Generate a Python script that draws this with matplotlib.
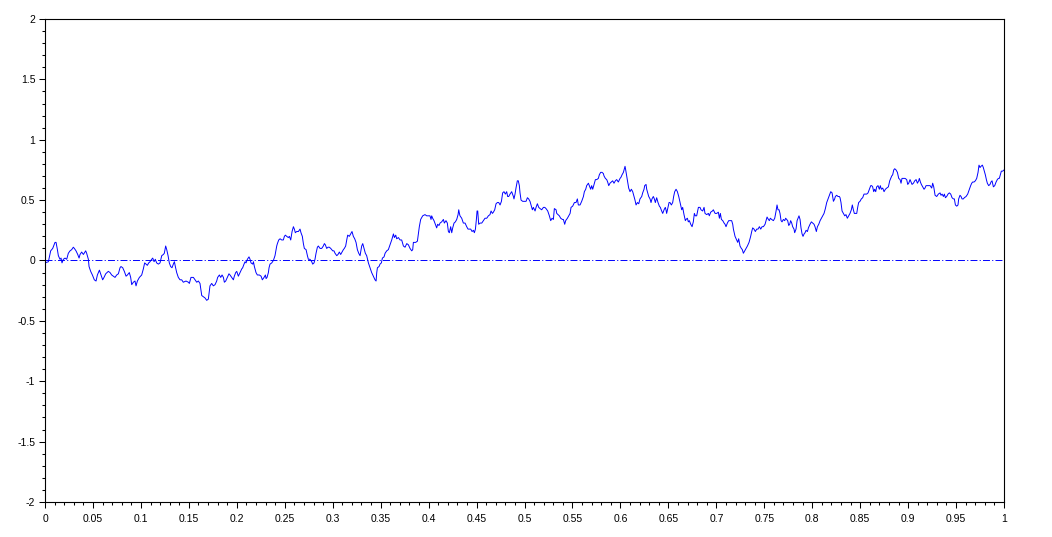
import numpy as np
import matplotlib
matplotlib.use("Agg")
import matplotlib.pyplot as plt
from matplotlib.ticker import MultipleLocator

# trajectoire, par tranches de temps
t_a = [0.0, 0.0035, 0.0059, 0.0080, 0.0104, 0.0115, 0.0129, 0.0139, 0.0156, 0.0167,
       0.0177, 0.0191, 0.0209, 0.0226, 0.0243, 0.0261, 0.0278, 0.0295, 0.0306, 0.0323,
       0.0341, 0.0355, 0.0365, 0.0382, 0.0400, 0.0424, 0.0434, 0.0452, 0.0459, 0.0476,
       0.0494, 0.0514, 0.0532, 0.0546, 0.0567, 0.0584, 0.0601, 0.0615, 0.0633, 0.0660,
       0.0678, 0.0695, 0.0713, 0.0730, 0.0747, 0.0765, 0.0782, 0.0792, 0.0810, 0.0827,
       0.0845, 0.0859, 0.0879, 0.0893, 0.0904, 0.0921, 0.0938, 0.0949, 0.0963, 0.0984,
       0.1008, 0.1025, 0.1039, 0.1053, 0.1067, 0.1081, 0.1095, 0.1112, 0.1123, 0.1137,
       0.1150, 0.1164, 0.1182, 0.1199, 0.1217, 0.1234, 0.1244, 0.1258, 0.1269, 0.1283,
       0.1296, 0.1310, 0.1324, 0.1338, 0.1349, 0.1359, 0.1373, 0.1390, 0.1408, 0.1425,
       0.1442, 0.1470, 0.1495, 0.1505, 0.1522, 0.1547, 0.1564, 0.1582, 0.1599, 0.1616]
w_a = [-0.02, -0.01, 0.08, 0.10, 0.15, 0.15, 0.09, 0.04, 0.01, 0.02,
       -0.02, 0.01, 0.02, 0.01, 0.06, 0.08, 0.09, 0.11, 0.10, 0.08,
       0.05, 0.02, 0.05, 0.07, 0.05, 0.08, 0.06, 0.01, -0.05, -0.09,
       -0.12, -0.16, -0.17, -0.12, -0.08, -0.12, -0.16, -0.14, -0.11, -0.09,
       -0.10, -0.12, -0.13, -0.14, -0.12, -0.11, -0.06, -0.05, -0.06, -0.09,
       -0.13, -0.12, -0.10, -0.14, -0.20, -0.18, -0.17, -0.21, -0.17, -0.14,
       -0.12, -0.07, -0.02, -0.03, -0.04, -0.02, -0.01, 0.01, 0.02, -0.01,
       0.01, -0.02, -0.03, -0.02, 0.04, 0.05, 0.06, 0.12, 0.09, 0.04,
       -0.02, -0.05, -0.06, -0.03, -0.01, -0.05, -0.10, -0.14, -0.16, -0.16,
       -0.18, -0.17, -0.18, -0.19, -0.14, -0.14, -0.16, -0.18, -0.17, -0.19]

t_b = [0.1634, 0.1651, 0.1668, 0.1686, 0.1703, 0.1720, 0.1738, 0.1755, 0.1773, 0.1790,
       0.1800, 0.1818, 0.1832, 0.1846, 0.1860, 0.1870, 0.1884, 0.1901, 0.1918, 0.1929,
       0.1947, 0.1964, 0.1974, 0.1988, 0.1999, 0.2016, 0.2033, 0.2051, 0.2061, 0.2075,
       0.2086, 0.2096, 0.2110, 0.2127, 0.2138, 0.2148, 0.2166, 0.2173, 0.2183, 0.2200,
       0.2214, 0.2235, 0.2253, 0.2266, 0.2284, 0.2298, 0.2305, 0.2315, 0.2329, 0.2336,
       0.2346, 0.2364, 0.2381, 0.2398, 0.2416, 0.2423, 0.2437, 0.2451, 0.2468, 0.2485,
       0.2496, 0.2506, 0.2520, 0.2537, 0.2548, 0.2562, 0.2576, 0.2590, 0.2600, 0.2610,
       0.2624, 0.2642, 0.2659, 0.2669, 0.2683, 0.2694, 0.2704, 0.2722, 0.2736, 0.2746,
       0.2763, 0.2781, 0.2791, 0.2805, 0.2815, 0.2826, 0.2840, 0.2850, 0.2868, 0.2885,
       0.2902, 0.2913, 0.2923, 0.2937, 0.2951, 0.2965, 0.2979, 0.2989, 0.3000, 0.3013,
       0.3024, 0.3042, 0.3055, 0.3069, 0.3083, 0.3097, 0.3111, 0.3121, 0.3135, 0.3146,
       0.3156, 0.3173, 0.3187, 0.3201, 0.3215, 0.3229, 0.3243, 0.3257, 0.3271, 0.3285]
w_b = [-0.29, -0.30, -0.31, -0.33, -0.32, -0.21, -0.19, -0.21, -0.20, -0.17,
       -0.14, -0.12, -0.14, -0.12, -0.14, -0.18, -0.17, -0.14, -0.11, -0.12,
       -0.14, -0.16, -0.13, -0.10, -0.09, -0.13, -0.10, -0.07, -0.06, -0.03,
       -0.01, -0.02, 0.01, 0.03, 0.01, -0.02, -0.03, -0.01, -0.05, -0.10,
       -0.12, -0.12, -0.13, -0.16, -0.14, -0.12, -0.15, -0.14, -0.10, -0.06,
       -0.03, -0.02, 0.00, 0.04, 0.12, 0.14, 0.17, 0.18, 0.17, 0.17,
       0.20, 0.21, 0.20, 0.19, 0.20, 0.17, 0.24, 0.28, 0.26, 0.23,
       0.24, 0.24, 0.26, 0.23, 0.20, 0.14, 0.10, 0.09, 0.04, 0.01,
       0.01, -0.01, -0.03, -0.02, 0.01, 0.06, 0.11, 0.12, 0.10, 0.10,
       0.12, 0.14, 0.13, 0.10, 0.11, 0.11, 0.10, 0.09, 0.08, 0.08,
       0.06, 0.04, 0.05, 0.07, 0.05, 0.07, 0.09, 0.10, 0.12, 0.17,
       0.21, 0.20, 0.22, 0.24, 0.20, 0.18, 0.15, 0.09, 0.06, 0.04]

t_c = [0.3302, 0.3313, 0.3327, 0.3340, 0.3354, 0.3372, 0.3389, 0.3406, 0.3424, 0.3441,
       0.3452, 0.3459, 0.3466, 0.3483, 0.3493, 0.3507, 0.3518, 0.3535, 0.3546, 0.3563,
       0.3580, 0.3598, 0.3615, 0.3633, 0.3643, 0.3657, 0.3667, 0.3685, 0.3702, 0.3719,
       0.3737, 0.3754, 0.3772, 0.3789, 0.3806, 0.3824, 0.3834, 0.3841, 0.3851, 0.3865,
       0.3883, 0.3893, 0.3903, 0.3917, 0.3938, 0.3962, 0.3980, 0.3997, 0.4014, 0.4025,
       0.4032, 0.4042, 0.4056, 0.4070, 0.4084, 0.4094, 0.4108, 0.4119, 0.4136, 0.4154,
       0.4164, 0.4181, 0.4195, 0.4206, 0.4216, 0.4230, 0.4241, 0.4251, 0.4265, 0.4279,
       0.4293, 0.4307, 0.4314, 0.4321, 0.4327, 0.4345, 0.4362, 0.4380, 0.4397, 0.4411,
       0.4425, 0.4439, 0.4453, 0.4467, 0.4477, 0.4488, 0.4498, 0.4505, 0.4512, 0.4522,
       0.4536, 0.4554, 0.4571, 0.4588, 0.4606, 0.4623, 0.4640, 0.4651, 0.4665, 0.4675,
       0.4689, 0.4703, 0.4717, 0.4731, 0.4745, 0.4759, 0.4772, 0.4786, 0.4800, 0.4814,
       0.4824, 0.4835, 0.4849, 0.4866, 0.4884, 0.4890, 0.4901, 0.4911, 0.4925, 0.4935,
       0.4946, 0.4953]
w_c = [0.12, 0.14, 0.10, 0.06, 0.04, -0.02, -0.06, -0.10, -0.13, -0.16,
       -0.17, -0.10, -0.06, -0.05, -0.03, -0.02, 0.02, 0.03, 0.06, 0.08,
       0.09, 0.13, 0.17, 0.22, 0.19, 0.21, 0.18, 0.19, 0.17, 0.17,
       0.12, 0.11, 0.14, 0.13, 0.10, 0.08, 0.09, 0.15, 0.15, 0.15,
       0.16, 0.22, 0.28, 0.34, 0.37, 0.38, 0.37, 0.37, 0.37, 0.34,
       0.37, 0.35, 0.33, 0.30, 0.27, 0.30, 0.29, 0.31, 0.32, 0.34,
       0.31, 0.33, 0.31, 0.24, 0.23, 0.28, 0.23, 0.27, 0.31, 0.32,
       0.34, 0.38, 0.42, 0.39, 0.37, 0.35, 0.31, 0.31, 0.28, 0.26,
       0.26, 0.26, 0.24, 0.25, 0.23, 0.26, 0.34, 0.41, 0.41, 0.30,
       0.31, 0.31, 0.33, 0.35, 0.35, 0.37, 0.38, 0.41, 0.39, 0.40,
       0.42, 0.47, 0.48, 0.48, 0.46, 0.49, 0.56, 0.57, 0.55, 0.57,
       0.53, 0.53, 0.55, 0.57, 0.53, 0.51, 0.55, 0.60, 0.66, 0.66,
       0.62, 0.56]

t_d = [0.4964, 0.4981, 0.5002, 0.5016, 0.5030, 0.5043, 0.5057, 0.5071, 0.5082, 0.5092,
       0.5110, 0.5120, 0.5134, 0.5148, 0.5162, 0.5179, 0.5197, 0.5211, 0.5224, 0.5242,
       0.5259, 0.5273, 0.5287, 0.5301, 0.5311, 0.5329, 0.5336, 0.5349, 0.5363, 0.5377,
       0.5395, 0.5405, 0.5419, 0.5429, 0.5447, 0.5461, 0.5475, 0.5485, 0.5502, 0.5520,
       0.5537, 0.5551, 0.5561, 0.5579, 0.5596, 0.5614, 0.5624, 0.5638, 0.5648, 0.5666,
       0.5676, 0.5690, 0.5700, 0.5711, 0.5725, 0.5739, 0.5753, 0.5770, 0.5780, 0.5794,
       0.5808, 0.5822, 0.5829, 0.5843, 0.5857, 0.5867, 0.5878, 0.5891, 0.5905, 0.5919,
       0.5933, 0.5947, 0.5961, 0.5978, 0.5996, 0.6006, 0.6017, 0.6031, 0.6041, 0.6048,
       0.6055, 0.6065, 0.6076, 0.6086, 0.6100, 0.6114, 0.6128, 0.6142, 0.6152, 0.6163,
       0.6177, 0.6191, 0.6204, 0.6222, 0.6232, 0.6246, 0.6253, 0.6267, 0.6274, 0.6284,
       0.6295, 0.6309, 0.6319, 0.6329, 0.6343, 0.6354, 0.6364, 0.6378, 0.6392, 0.6406,
       0.6416, 0.6430, 0.6441, 0.6455, 0.6468, 0.6475, 0.6482, 0.6496, 0.6507, 0.6517,
       0.6531, 0.6545, 0.6555, 0.6566, 0.6580, 0.6594, 0.6608, 0.6622]
w_d = [0.50, 0.49, 0.49, 0.49, 0.52, 0.51, 0.49, 0.45, 0.42, 0.44,
       0.41, 0.44, 0.47, 0.44, 0.43, 0.42, 0.44, 0.44, 0.43, 0.41,
       0.37, 0.33, 0.35, 0.34, 0.43, 0.42, 0.39, 0.38, 0.37, 0.35,
       0.34, 0.34, 0.30, 0.33, 0.35, 0.37, 0.39, 0.44, 0.45, 0.48,
       0.48, 0.51, 0.46, 0.46, 0.49, 0.53, 0.57, 0.59, 0.62, 0.64,
       0.62, 0.59, 0.62, 0.59, 0.63, 0.67, 0.67, 0.68, 0.71, 0.73,
       0.73, 0.72, 0.70, 0.68, 0.67, 0.65, 0.62, 0.64, 0.65, 0.66,
       0.64, 0.66, 0.67, 0.65, 0.68, 0.69, 0.71, 0.73, 0.76, 0.78,
       0.75, 0.70, 0.64, 0.60, 0.57, 0.59, 0.57, 0.53, 0.50, 0.46,
       0.48, 0.47, 0.51, 0.53, 0.56, 0.59, 0.62, 0.63, 0.59, 0.56,
       0.53, 0.51, 0.48, 0.51, 0.53, 0.51, 0.48, 0.52, 0.48, 0.45,
       0.44, 0.41, 0.39, 0.42, 0.44, 0.42, 0.39, 0.44, 0.48, 0.48,
       0.46, 0.48, 0.53, 0.57, 0.59, 0.57, 0.53, 0.48]

t_e = [0.6639, 0.6649, 0.6663, 0.6677, 0.6684, 0.6698, 0.6708, 0.6719, 0.6733, 0.6747,
       0.6760, 0.6771, 0.6781, 0.6795, 0.6813, 0.6830, 0.6840, 0.6858, 0.6872, 0.6882,
       0.6900, 0.6917, 0.6927, 0.6941, 0.6959, 0.6969, 0.6987, 0.7004, 0.7021, 0.7032,
       0.7042, 0.7053, 0.7067, 0.7081, 0.7091, 0.7101, 0.7115, 0.7129, 0.7143, 0.7160,
       0.7171, 0.7178, 0.7195, 0.7212, 0.7223, 0.7233, 0.7247, 0.7261, 0.7271, 0.7282,
       0.7296, 0.7310, 0.7324, 0.7341, 0.7358, 0.7369, 0.7379, 0.7393, 0.7407, 0.7421,
       0.7435, 0.7449, 0.7463, 0.7477, 0.7491, 0.7508, 0.7518, 0.7529, 0.7543, 0.7553,
       0.7563, 0.7577, 0.7595, 0.7609, 0.7623, 0.7633, 0.7643, 0.7654, 0.7664, 0.7675,
       0.7685, 0.7699, 0.7713, 0.7723, 0.7734, 0.7744, 0.7755, 0.7765, 0.7775, 0.7786,
       0.7796, 0.7810, 0.7817, 0.7831, 0.7842, 0.7852, 0.7862, 0.7873, 0.7883, 0.7894,
       0.7904, 0.7915, 0.7925, 0.7936, 0.7950, 0.7960, 0.7977, 0.7991, 0.8005, 0.8019,
       0.8029, 0.8043, 0.8054, 0.8068, 0.8082, 0.8096, 0.8109, 0.8123, 0.8137, 0.8151,
       0.8165, 0.8179, 0.8193, 0.8207, 0.8221, 0.8234, 0.8241, 0.8255, 0.8269, 0.8283]
w_e = [0.42, 0.44, 0.38, 0.33, 0.34, 0.35, 0.32, 0.33, 0.30, 0.28,
       0.32, 0.39, 0.37, 0.37, 0.44, 0.44, 0.42, 0.41, 0.44, 0.39,
       0.38, 0.39, 0.37, 0.40, 0.41, 0.42, 0.39, 0.39, 0.40, 0.35,
       0.39, 0.34, 0.33, 0.31, 0.30, 0.28, 0.31, 0.33, 0.33, 0.33,
       0.30, 0.26, 0.20, 0.17, 0.15, 0.18, 0.12, 0.10, 0.09, 0.06,
       0.08, 0.10, 0.12, 0.15, 0.20, 0.24, 0.27, 0.26, 0.24, 0.26,
       0.26, 0.28, 0.26, 0.28, 0.28, 0.30, 0.33, 0.36, 0.34, 0.33,
       0.35, 0.34, 0.33, 0.35, 0.41, 0.46, 0.42, 0.42, 0.39, 0.33,
       0.32, 0.34, 0.33, 0.35, 0.34, 0.33, 0.29, 0.30, 0.33, 0.31,
       0.28, 0.26, 0.23, 0.26, 0.33, 0.35, 0.37, 0.34, 0.27, 0.22,
       0.20, 0.22, 0.23, 0.25, 0.24, 0.27, 0.30, 0.32, 0.31, 0.30,
       0.28, 0.24, 0.28, 0.30, 0.33, 0.35, 0.37, 0.39, 0.43, 0.48,
       0.51, 0.54, 0.57, 0.56, 0.49, 0.51, 0.53, 0.54, 0.53, 0.53]

t_f = [0.8290, 0.8300, 0.8311, 0.8325, 0.8339, 0.8352, 0.8366, 0.8380, 0.8394, 0.8408,
       0.8418, 0.8429, 0.8439, 0.8453, 0.8464, 0.8474, 0.8484, 0.8498, 0.8512, 0.8526,
       0.8540, 0.8554, 0.8568, 0.8582, 0.8596, 0.8610, 0.8620, 0.8630, 0.8641, 0.8651,
       0.8662, 0.8672, 0.8686, 0.8700, 0.8710, 0.8721, 0.8735, 0.8749, 0.8763, 0.8777,
       0.8794, 0.8808, 0.8818, 0.8829, 0.8839, 0.8850, 0.8860, 0.8874, 0.8888, 0.8902,
       0.8916, 0.8926, 0.8936, 0.8950, 0.8968, 0.8985, 0.8996, 0.9006, 0.9020, 0.9030,
       0.9041, 0.9055, 0.9069, 0.9083, 0.9097, 0.9110, 0.9117, 0.9128, 0.9138, 0.9152,
       0.9166, 0.9176, 0.9187, 0.9201, 0.9215, 0.9229, 0.9246, 0.9256, 0.9267, 0.9281,
       0.9298, 0.9315, 0.9333, 0.9343, 0.9354, 0.9368, 0.9378, 0.9389, 0.9402, 0.9416,
       0.9430, 0.9444, 0.9458, 0.9472, 0.9482, 0.9493, 0.9507, 0.9520, 0.9527, 0.9541,
       0.9552, 0.9562, 0.9576, 0.9586, 0.9604, 0.9621, 0.9639, 0.9652, 0.9663, 0.9673,
       0.9687, 0.9701, 0.9715, 0.9729, 0.9739, 0.9750, 0.9760, 0.9774, 0.9784, 0.9795,
       0.9805, 0.9816, 0.9826, 0.9840, 0.9854, 0.9864, 0.9875, 0.9889, 0.9903, 0.9917,
       0.9930, 0.9941, 0.9951, 0.9962, 0.9972, 0.9986, 1.0]
w_f = [0.52, 0.48, 0.41, 0.39, 0.37, 0.38, 0.35, 0.37, 0.39, 0.42,
       0.46, 0.42, 0.39, 0.39, 0.39, 0.44, 0.48, 0.49, 0.51, 0.52,
       0.55, 0.55, 0.55, 0.56, 0.59, 0.62, 0.62, 0.61, 0.57, 0.59,
       0.57, 0.61, 0.62, 0.59, 0.62, 0.59, 0.60, 0.57, 0.59, 0.60,
       0.61, 0.66, 0.68, 0.70, 0.71, 0.75, 0.76, 0.75, 0.73, 0.68,
       0.67, 0.64, 0.68, 0.68, 0.68, 0.67, 0.63, 0.64, 0.67, 0.65,
       0.63, 0.64, 0.66, 0.67, 0.64, 0.66, 0.68, 0.65, 0.63, 0.61,
       0.59, 0.60, 0.62, 0.62, 0.62, 0.62, 0.60, 0.64, 0.61, 0.54,
       0.53, 0.55, 0.56, 0.54, 0.55, 0.53, 0.55, 0.52, 0.53, 0.55,
       0.56, 0.55, 0.52, 0.51, 0.51, 0.46, 0.45, 0.46, 0.51, 0.54,
       0.53, 0.51, 0.51, 0.52, 0.53, 0.55, 0.59, 0.62, 0.64, 0.65,
       0.65, 0.66, 0.68, 0.73, 0.79, 0.77, 0.78, 0.79, 0.77, 0.74,
       0.71, 0.67, 0.64, 0.62, 0.63, 0.65, 0.66, 0.61, 0.62, 0.65,
       0.67, 0.68, 0.68, 0.71, 0.74, 0.74, 0.75]

t = np.array(t_a + t_b + t_c + t_d + t_e + t_f)
w = np.array(w_a + w_b + w_c + w_d + w_e + w_f)

plt.rcParams['font.family'] = ['Liberation Sans', 'DejaVu Sans']
plt.rcParams['lines.scale_dashes'] = False

fig = plt.figure(figsize=(10.52, 5.37), dpi=100)
ax = fig.add_axes([0.0428, 0.0652, 0.9116, 0.8994])

# ligne du zero en tirets-points
ax.plot([0, 1], [0, 0], color='blue', lw=0.7, dashes=(5, 1.6, 0.8, 1.6))
ax.plot(t, w, color='blue', lw=0.7)

ax.set_xlim(0, 1)
ax.set_ylim(-2, 2)
ax.xaxis.set_major_locator(MultipleLocator(0.05))
ax.xaxis.set_minor_locator(MultipleLocator(0.01))
ax.yaxis.set_major_locator(MultipleLocator(0.5))
ax.yaxis.set_minor_locator(MultipleLocator(0.1))
ax.set_xticklabels([f'{v:g}' for v in ax.get_xticks()])
ax.set_yticklabels([f'{v:g}' for v in ax.get_yticks()])

ax.tick_params(which='major', direction='out', length=4, width=0.75, labelsize=7.5, pad=5)
ax.tick_params(which='minor', direction='out', length=2, width=0.75)
ax.tick_params(axis='y', which='major', length=4.5, pad=2.5)
ax.tick_params(axis='y', which='minor', length=2.2)
for s in ax.spines.values():
    s.set_linewidth(0.8)

fig.savefig('out.png', dpi=100)
